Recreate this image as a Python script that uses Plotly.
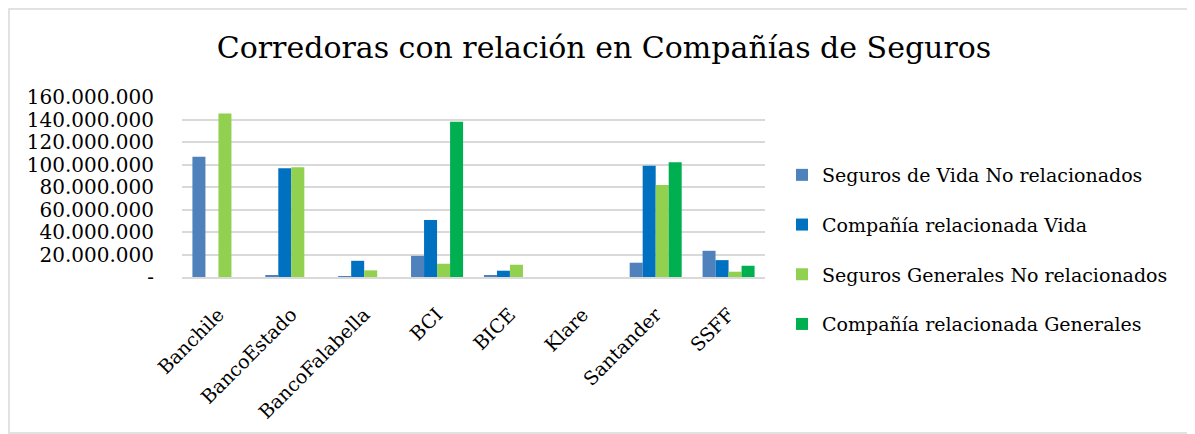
import plotly.graph_objects as go

corredoras = ['Banchile', 'BancoEstado', 'BancoFalabella', 'BCI', 'BICE', 'Klare', 'Santander', 'SSFF']

vida_no_rel = [107000000, 1400000, 800000, 18800000, 1400000, 0, 12700000, 23300000]
rel_vida = [0, 96700000, 14400000, 50700000, 5600000, 0, 99000000, 15000000]
gen_no_rel = [145400000, 97600000, 5900000, 11800000, 10900000, 0, 81700000, 4700000]
rel_gen = [0, 0, 0, 138000000, 0, 0, 102000000, 10000000]

tick_vals = [0, 20000000, 40000000, 60000000, 80000000, 100000000, 120000000, 140000000, 160000000]
tick_text = ['-', '20.000.000', '40.000.000', '60.000.000', '80.000.000',
             '100.000.000', '120.000.000', '140.000.000', '160.000.000']

series = [
    ('Seguros de Vida No relacionados', vida_no_rel, '#4F81BD'),
    ('Compañía relacionada Vida', rel_vida, '#0070C0'),
    ('Seguros Generales No relacionados', gen_no_rel, '#92D050'),
    ('Compañía relacionada Generales', rel_gen, '#00B050'),
]

FONT = 'DejaVu Serif'

fig = go.Figure()
for i, (name, vals, color) in enumerate(series):
    fig.add_trace(go.Bar(x=corredoras, y=vals, name=name, legendgroup=str(i),
                         marker=dict(color=color, line=dict(width=0))))

# page body adds 8px, so the figure is a bit smaller than the window
W, H = 1187, 426
L, R, T, B = 174, 430, 89, 157
pw, ph = W - L - R, H - T - B

fig.update_layout(
    width=W, height=H,
    margin=dict(l=L, r=R, t=T, b=B, autoexpand=False),
    paper_bgcolor='white', plot_bgcolor='white',
    font=dict(family=FONT, color='#000000'),
    title=dict(text='Corredoras con relación en Compañías de Seguros',
               x=(604 - 8) / W, xanchor='center', y=1 - (47 - 8) / H, yanchor='middle',
               font=dict(family=FONT, size=30, color='#000000')),
    barmode='group', bargap=0.286, bargroupgap=0,
    legend=dict(x=(774 - L) / pw, xanchor='left', y=(H - B - 148) / ph, yanchor='top',
                font=dict(family=FONT, size=19, color='#000000'),
                traceorder='grouped', tracegroupgap=22, itemwidth=30,
                maxheight=400, bgcolor='rgba(0,0,0,0)'),
    showlegend=True,
)

fig.update_xaxes(tickangle=-45, tickfont=dict(family=FONT, size=19), ticklabelstandoff=17,
                 showline=True, linecolor='#D9D9D9', linewidth=2,
                 showgrid=False, ticks='')
fig.update_yaxes(range=[0, 160000000], tickvals=tick_vals, ticktext=tick_text,
                 tickfont=dict(family=FONT, size=20), ticklabelstandoff=27,
                 showgrid=True, gridcolor='#D9D9D9', gridwidth=2,
                 zeroline=False, showline=False, ticks='')

# chart border
fig.add_shape(type='rect', xref='paper', yref='paper',
              x0=(1 - L) / pw, x1=(W - 1 - L) / pw,
              y0=-(B - 1) / ph, y1=1 + (T - 1) / ph,
              line=dict(color='#D9D9D9', width=1.5), layer='below')

fig.write_html('out.html')
